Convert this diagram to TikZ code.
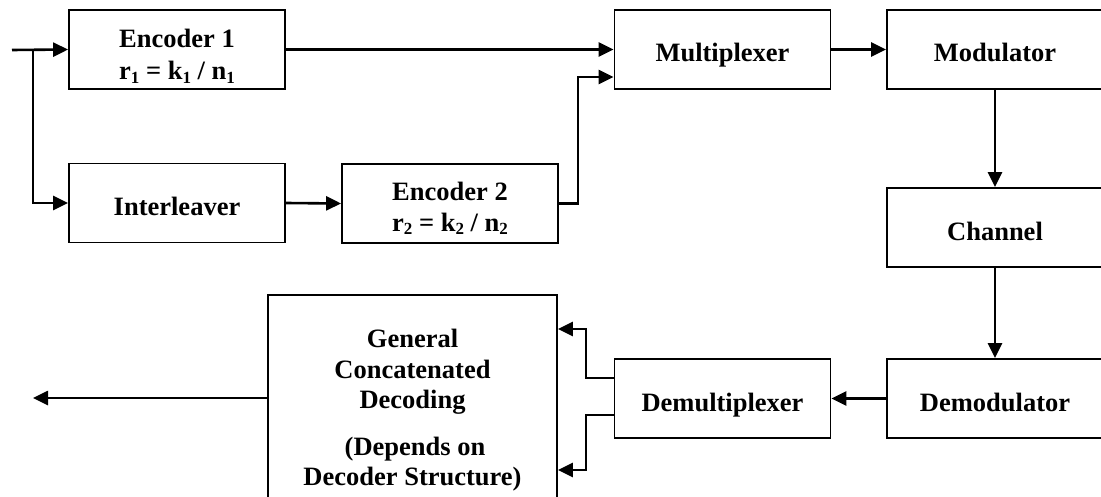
\documentclass[tikz,border=0pt]{standalone}
\usepackage{fontspec}
\setmainfont{Liberation Serif}
\usetikzlibrary{arrows.meta,calc}
% small lowered index used in the code-rate labels
\newcommand\lowsub[1]{\raisebox{-0.3ex}{\fontsize{8.5pt}{8.5pt}\selectfont #1}}
\begin{document}
\begin{tikzpicture}[x=0.5pt,y=-0.5pt,
  blk/.style={draw,line width=0.9pt,minimum width=108pt,minimum height=39.5pt,inner sep=0pt},
  lbl/.style={anchor=base,inner sep=0pt,font=\fontsize{13.25pt}{15.5pt}\selectfont\bfseries},
  link/.style={line width=1.3pt},
  arr/.style={link,-{Triangle[length=7.5pt,width=7pt]}}]
\useasboundingbox (0,0) rectangle (1101,497);
\clip (0,0) rectangle (1101,497);

% transmitter chain
\node[blk] (enc1)  at (177,49.5)   {};
\node[blk] (inter) at (177,203)    {};
\node[blk] (enc2)  at (450,203.5)  {};
\node[blk] (mux)   at (722.5,49.5) {};
\node[blk] (mod)   at (995,49.5)   {};
\node[blk] (chan)  at (995,227.5)  {};

% receiver chain
\node[blk] (demod) at (995,398.5)   {};
\node[blk] (demux) at (722.5,398.5) {};
\node[blk,minimum width=144.5pt,minimum height=113pt] (gen) at (412.5,408) {};

% block captions, placed by baseline
\node[lbl] (enc1a) at (177,48)  {Encoder 1};
\node[lbl] (enc1b) at (177,80)  {r\lowsub{1} = k\lowsub{1} / n\lowsub{1}};
\node[lbl] (intera) at (177,215) {Interleaver};
\node[lbl] (enc2a) at (450,200) {Encoder 2};
\node[lbl] (enc2b) at (450,231) {r\lowsub{2} = k\lowsub{2} / n\lowsub{2}};
\node[lbl] (muxa)  at (722.5,62) {Multiplexer};
\node[lbl] (moda)  at (995,62)  {Modulator};
\node[lbl] (chana) at (995,240) {Channel};
\node[lbl] (demoda) at (995,411) {Demodulator};
\node[lbl] (demuxa) at (722.5,411) {Demultiplexer};
\node[lbl] (gena)  at (412.5,347) {General};
\node[lbl] (genb)  at (412.5,378) {Concatenated};
\node[lbl] (genc)  at (412.5,408) {Decoding};
\node[lbl] (gend)  at (415,455) {(Depends on};
\node[lbl] (gene)  at (412.5,485) {Decoder Structure)};

% free ends and bends
\coordinate (src)   at (12,50);
\coordinate (split) at (33,50);
\coordinate (sink)  at (33,398);
\coordinate (merge) at (578,77);
\coordinate (fork)  at (586,398);

% input split into the two encoder branches
\draw[arr] (src) -- (enc1.west);
\draw[arr] (split) |- (inter.west);
\draw[arr] (inter.east) -- (enc2.west);

% both encoders into the multiplexer
\draw[arr] (enc1.east) -- (mux.west);
\draw[arr] (enc2.east) -| (merge) -- (mux.west |- merge);

% through the channel
\draw[arr] (mux.east) -- (mod.west);
\draw[arr] (mod.south) -- (chan.north);
\draw[arr] (chan.south) -- (demod.north);
\draw[arr] (demod.west) -- (demux.east);

% demultiplexer outputs into the decoder
\draw[arr] ($(demux.west)+(0,-20.5)$) -| (fork |- 0,329) -- (gen.east |- 0,329);
\draw[arr] ($(demux.west)+(0,16.5)$) -| (fork |- 0,470) -- (gen.east |- 0,470);

% decoded output
\draw[arr] (gen.west |- sink) -- (sink);
\end{tikzpicture}
\end{document}
